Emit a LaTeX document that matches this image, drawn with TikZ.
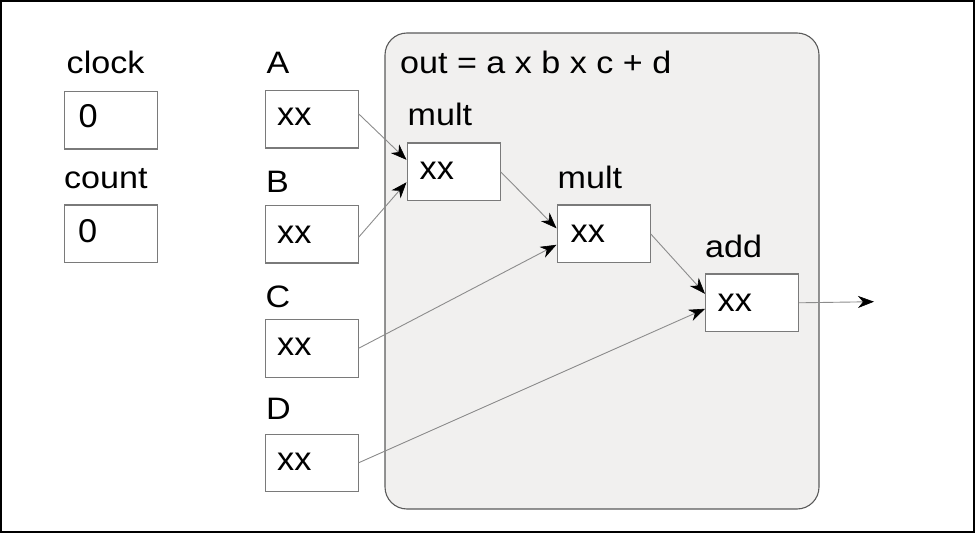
\documentclass[tikz,border=0pt]{standalone}
\usepackage{fontspec}
\setmainfont{Liberation Sans}
\newfontfamily\lblfont[FakeStretch=1.1]{Liberation Sans}
\newfontfamily\valfont[FakeStretch=1.04]{Liberation Sans}
\usetikzlibrary{arrows.meta}
\definecolor{grpfill}{HTML}{F1F0EF}
\definecolor{grpline}{HTML}{5A5A5A}
\definecolor{boxline}{HTML}{7A7A7A}
\definecolor{connline}{HTML}{8C8C8C}
\tikzset{
  box/.style={draw=boxline, fill=white, line width=1.1bp, anchor=north west,
    minimum width=93bp, minimum height=57.5bp, inner sep=0pt},
  lbl/.style={anchor=base west, inner sep=0pt, font=\lblfont\fontsize{31bp}{36bp}\selectfont},
  val/.style={anchor=base west, inner sep=0pt, font=\valfont\fontsize{33bp}{38bp}\selectfont},
  conn/.style={draw=connline, line width=0.9bp,
    -{Stealth[length=16bp, width=12bp, inset=5bp, line width=0.6bp, color=black, fill=black]}},
}
\begin{document}
\begin{tikzpicture}[x=1bp, y=-1bp]
\useasboundingbox (0,0) rectangle (976,533);
\draw[line width=2bp, black] (1,1) rectangle (974,531.5);

% group
\draw[grpline, fill=grpfill, line width=1.1bp, rounded corners=22bp] (385,33) rectangle (819,509);
\node[lbl] (title) at (400,73.3) {out = a x b x c + d};

% left column
\node[lbl] (clockl) at (66.5,73.3) {clock};
\node[box] (clock) at (64,91) {};
\node[val] (clockv) at (78.5,128) {0};
\node[lbl] (countl) at (64,188.3) {count};
\node[box] (count) at (63.5,204.5) {};
\node[val] (countv) at (78,243) {0};

% inputs
\node[lbl] (Al) at (266.5,74) {A};
\node[box] (A) at (264.5,90) {};
\node[val] (Av) at (277,126) {xx};
\node[lbl] (Bl) at (266,192.5) {B};
\node[box] (B) at (264.5,205) {};
\node[val] (Bv) at (277,243.5) {xx};
\node[lbl] (Cl) at (265.5,307.5) {C};
\node[box] (C) at (264.5,319) {};
\node[val] (Cv) at (277,356) {xx};
\node[lbl] (Dl) at (266,419) {D};
\node[box] (D) at (264.5,433.5) {};
\node[val] (Dv) at (277,470.5) {xx};

% operators
\node[lbl] (m1l) at (407.5,126) {mult};
\node[box] (m1) at (406.5,142.5) {};
\node[val] (m1v) at (419.5,180) {xx};
\node[lbl] (m2l) at (557.5,189) {mult};
\node[box] (m2) at (556.5,204.5) {};
\node[val] (m2v) at (570.5,242.5) {xx};
\node[lbl] (addl) at (705,258) {add};
\node[box] (add) at (705,273.5) {};
\node[val] (addv) at (717.5,311.5) {xx};
\coordinate (out) at (874,301.7);

% connectors
\draw[conn] ([yshift=5.5bp]A.east) -- ([yshift=12bp]m1.west);
\draw[conn] ([yshift=-3bp]B.east) -- ([yshift=-10.5bp]m1.west);
\draw[conn] (m1.east) -- ([yshift=5.5bp]m2.west);
\draw[conn] (C.east) -- ([yshift=-11bp]m2.west);
\draw[conn] (m2.east) -- ([yshift=9bp]add.west);
\draw[conn] (D.east) -- ([yshift=-6bp]add.west);
\draw[conn] (add.east) -- (out);
\end{tikzpicture}
\end{document}
